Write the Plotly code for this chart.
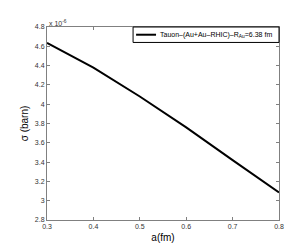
import plotly.graph_objects as go

a_fm = [0.3, 0.4, 0.5, 0.6, 0.7, 0.8]
sigma_e6 = [4.635, 4.38, 4.08, 3.76, 3.42, 3.085]  # sigma in units of 1e-6 barn
series_name = "Tauon\u2013(Au+Au\u2013RHIC)\u2013R<sub>Au</sub>=6.38 fm"
x_ticks = [0.3, 0.4, 0.5, 0.6, 0.7, 0.8]
y_ticks = [2.8, 3.0, 3.2, 3.4, 3.6, 3.8, 4.0, 4.2, 4.4, 4.6, 4.8]
y_ticktext = ["2.8", "3", "3.2", "3.4", "3.6", "3.8", "4", "4.2", "4.4", "4.6", "4.8"]

axis_col = "#808080"
font_fam = "Liberation Sans, Arial, sans-serif"

fig = go.Figure()
fig.add_trace(go.Scatter(x=a_fm, y=sigma_e6, mode="lines", name=series_name,
                         showlegend=False, line=dict(color="black", width=2)))

common = dict(showgrid=False, zeroline=False, showline=True, linecolor=axis_col,
              linewidth=1, mirror="allticks", ticks="inside", ticklen=3,
              tickcolor=axis_col, tickfont=dict(size=7, color="#333", family=font_fam))
fig.update_xaxes(range=[0.3, 0.8], tickvals=x_ticks, ticktext=[str(v) for v in x_ticks],
                 title=dict(text="a(fm)", font=dict(size=10, color="black", family=font_fam), standoff=4),
                 **common)
fig.update_yaxes(range=[2.8, 4.8], tickvals=y_ticks, ticktext=y_ticktext,
                 title=dict(text="\u03c3 (barn)", font=dict(size=10, color="black", family=font_fam), standoff=4),
                 **common)

fig.add_annotation(text="x 10<sup>-6</sup>", xref="paper", yref="paper", x=0, y=1,
                   xanchor="left", yanchor="bottom", showarrow=False,
                   font=dict(size=7, color="#333", family=font_fam), yshift=-2)

# manual legend box (paper coordinates)
lx0, lx1, ly0, ly1 = 0.371, 1.0, 0.92, 1.0
fig.add_shape(type="rect", xref="paper", yref="paper", x0=lx0, x1=lx1, y0=ly0, y1=ly1,
              line=dict(color="black", width=1), fillcolor="white", layer="above")
fig.add_shape(type="line", xref="paper", yref="paper", x0=0.384, x1=0.47,
              y0=(ly0 + ly1) / 2, y1=(ly0 + ly1) / 2, line=dict(color="black", width=2),
              layer="above")
fig.add_annotation(text=series_name, xref="paper", yref="paper", x=0.48, y=(ly0 + ly1) / 2,
                   xanchor="left", yanchor="middle", showarrow=False,
                   font=dict(size=7, color="black", family=font_fam))

fig.update_layout(width=300, height=245, margin=dict(l=39, r=29, t=19, b=27),
                  paper_bgcolor="white", plot_bgcolor="white", showlegend=False)
fig.write_html("out.html")
